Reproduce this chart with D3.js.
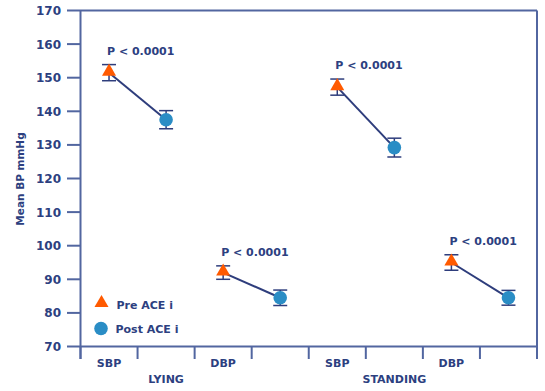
<!DOCTYPE html>
<html><head><meta charset="utf-8">
<script src="https://cdn.jsdelivr.net/npm/d3@7"></script>
<style>
html,body{margin:0;padding:0;background:#fff;}
text{font-family:"DejaVu Sans",Verdana,sans-serif;font-weight:bold;fill:#2c4080;}
</style></head>
<body>
<svg id="c" width="545" height="391"></svg>
<script>
const slots = ["SBP","LYING","DBP","","SBP","STANDING","DBP",""];
const slotLabels = ["SBP","","DBP","","SBP","","DBP",""];
const groupLabels = ["","LYING","","","","STANDING","",""];
const yTicks = [70,80,90,100,110,120,130,140,150,160,170];
const preSlot = [0,2,4,6];
const postSlot = [1,3,5,7];
const preVals = [151.5, 92.0, 147.2, 95.0];
const preErr = [2.4, 2.0, 2.4, 2.3];
const postVals = [137.5, 84.5, 129.2, 84.5];
const postErr = [2.7, 2.3, 2.8, 2.2];
const pLabels = ["P < 0.0001","P < 0.0001","P < 0.0001","P < 0.0001"];
const legendLabels = ["Pre ACE i","Post ACE i"];

const svg = d3.select("#c");
const axisColor = "#5266a0", navy = "#2e3d7c", orange = "#ff5a00", blue = "#2a8dc5";
const x = d3.scaleBand().domain(d3.range(slots.length)).range([80.5, 537]).padding(0);
const y = d3.scaleLinear().domain([70,170]).range([346.5, 10.5]);

// y ticks
const gy = svg.append("g");
gy.selectAll("line").data(yTicks).join("line")
  .attr("x1", 67).attr("x2", d => (d===70||d===170) ? 537 : 80.5)
  .attr("y1", d => y(d)).attr("y2", d => y(d))
  .attr("stroke", axisColor).attr("stroke-width", 2);
gy.selectAll("text").data(yTicks).join("text")
  .attr("x", 61).attr("y", d => y(d)+4.4).attr("text-anchor","end")
  .attr("font-size", 12).text(d => d);
// y axis line
svg.append("line").attr("x1",80.5).attr("x2",80.5).attr("y1",y(170)).attr("y2",359)
  .attr("stroke",axisColor).attr("stroke-width",2);
// x ticks (last one is the right frame)
const xt = d3.range(slots.length+1).map(i => i<slots.length ? x(i) : x.range()[1]);
svg.append("g").selectAll("line").data(xt).join("line")
  .attr("x1", d=>d).attr("x2", d=>d)
  .attr("y1", (d,i)=> i===slots.length ? y(170) : y(70)).attr("y2", 359)
  .attr("stroke",axisColor).attr("stroke-width",2);
// x labels
svg.append("g").selectAll("text").data(slotLabels).join("text")
  .attr("x",(d,i)=>x(i)+x.bandwidth()/2).attr("y",367).attr("text-anchor","middle")
  .attr("font-size",11).text(d=>d);
svg.append("g").selectAll("text").data(groupLabels).join("text")
  .attr("x",(d,i)=>x(i)+x.bandwidth()/2).attr("y",383).attr("text-anchor","middle")
  .attr("font-size",11).text(d=>d);
// y title
svg.append("text").attr("transform","translate(24,179) rotate(-90)")
  .attr("text-anchor","middle").attr("font-size",10.5).text("Mean BP mmHg");

const cx = s => x(s)+x.bandwidth()/2;
const pairs = d3.range(preVals.length);
// connecting lines
svg.append("g").selectAll("line").data(pairs).join("line")
  .attr("x1", i=>cx(preSlot[i])).attr("y1", i=>y(preVals[i]))
  .attr("x2", i=>cx(postSlot[i])).attr("y2", i=>y(postVals[i]))
  .attr("stroke",navy).attr("stroke-width",2);
// error bars
function errBars(slotsArr, vals, errs){
  const g = svg.append("g").attr("stroke",navy).attr("stroke-width",1.5);
  pairs.forEach(i=>{
    const xc = cx(slotsArr[i]);
    g.append("line").attr("x1",xc).attr("x2",xc).attr("y1",y(vals[i]+errs[i])).attr("y2",y(vals[i]-errs[i]));
    [vals[i]+errs[i], vals[i]-errs[i]].forEach(v=>{
      g.append("line").attr("x1",xc-7).attr("x2",xc+7).attr("y1",y(v)).attr("y2",y(v));
    });
  });
}
errBars(preSlot, preVals, preErr);
errBars(postSlot, postVals, postErr);
// markers
const tri = d3.symbol().type(d3.symbolTriangle).size(85);
svg.append("g").selectAll("path").data(pairs).join("path")
  .attr("d", tri).attr("fill", orange)
  .attr("transform", i=>`translate(${cx(preSlot[i])},${y(preVals[i])-1})`);
svg.append("g").selectAll("circle").data(pairs).join("circle")
  .attr("cx", i=>cx(postSlot[i])).attr("cy", i=>y(postVals[i])).attr("r",6.8)
  .attr("fill", blue);
// p labels
svg.append("g").selectAll("text").data(pairs).join("text")
  .attr("x", i=>cx(preSlot[i])-2).attr("y", i=>y(preVals[i]+preErr[i])-10)
  .attr("font-size",11).text(i=>pLabels[i]);
// legend
svg.append("path").attr("d",tri).attr("fill",orange).attr("transform","translate(101.5,303)");
svg.append("circle").attr("cx",101).attr("cy",328.5).attr("r",6.8).attr("fill",blue);
svg.append("text").attr("x",116.5).attr("y",308.5).attr("font-size",11).text(legendLabels[0]);
svg.append("text").attr("x",115.5).attr("y",333).attr("font-size",11).text(legendLabels[1]);
</script>
</body></html>
